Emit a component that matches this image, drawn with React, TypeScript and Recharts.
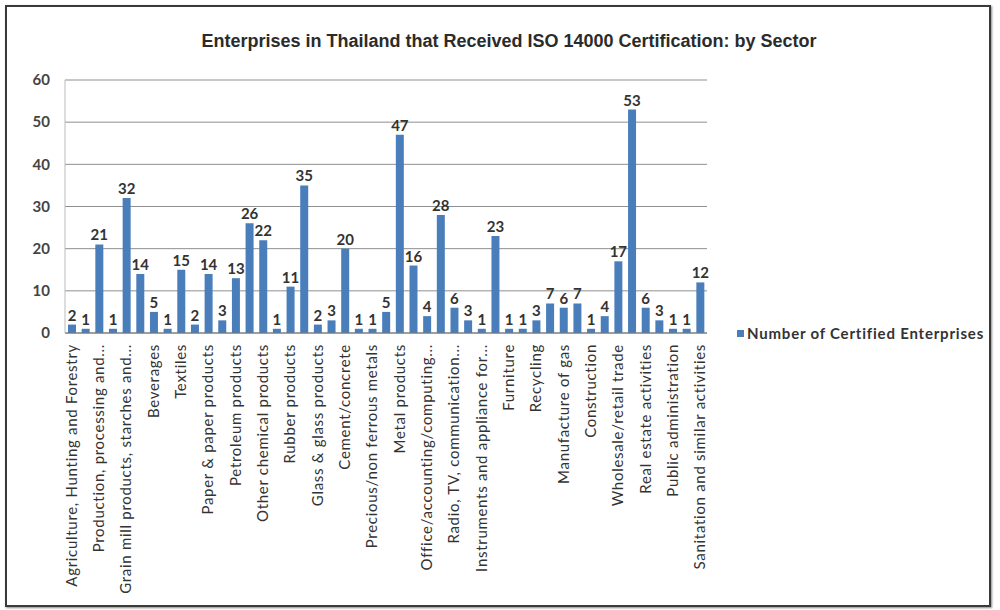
import React from 'react';
import { BarChart, Bar, XAxis, YAxis, CartesianGrid, LabelList } from 'recharts';

// ISO 14000 certified enterprises per sector
const sectors = [
  'Agriculture, Hunting and Forestry',
  'Fishing',
  'Production, processing and...',
  'Meat & fish processing',
  'Grain mill products, starches and...',
  'Other food products',
  'Beverages',
  'Tobacco products',
  'Textiles',
  'Wearing apparel',
  'Paper & paper products',
  'Wood & wood products',
  'Petroleum products',
  'Basic chemicals',
  'Other chemical products',
  'Man-made fibres',
  'Rubber products',
  'Plastic products',
  'Glass & glass products',
  'Ceramic products',
  'Cement/concrete',
  'Basic iron & steel',
  'Precious/non ferrous metals',
  'Casting of metals',
  'Metal products',
  'Machinery & equipment',
  'Office/accounting/computing...',
  'Electrical machinery',
  'Radio, TV, communication...',
  'Electronic components',
  'Instruments and appliance for...',
  'Motor vehicles',
  'Furniture',
  'Other transport equipment',
  'Recycling',
  'Electricity supply',
  'Manufacture of gas',
  'Water supply',
  'Construction',
  'Motor vehicle sales & repair',
  'Wholesale/retail trade',
  'Transport & storage',
  'Real estate activities',
  'Computer & related activities',
  'Public administration',
  'Education',
  'Sanitation and similar activities',
];

const certified = [
  2, 1, 21, 1, 32, 14, 5, 1, 15, 2, 14, 3, 13, 26, 22, 1, 11, 35, 2, 3, 20, 1, 1, 5,
  47, 16, 4, 28, 6, 3, 1, 23, 1, 1, 3, 7, 6, 7, 1, 4, 17, 53, 6, 3, 1, 1, 12,
];

const yTicks = [0, 10, 20, 30, 40, 50, 60];

const seriesName = 'Number of Certified Enterprises';
const BAR = '#4a7ebb';

const rows = sectors.map((name, i) => ({ name, value: certified[i] }));

const CategoryTick = (props: any) => {
  const { x, y, payload } = props;
  return (
    <text
      x={0}
      y={0}
      transform={`translate(${x + 5},${y + 3}) rotate(-90)`}
      textAnchor="end"
      fontFamily="Lato"
      fontSize={15}
      letterSpacing={0.7}
      fill="#333"
    >
      {payload.value}
    </text>
  );
};

export default function App() {
  return (
    <div
      style={{
        position: 'absolute',
        left: 5,
        top: 5,
        width: 986,
        height: 602,
        border: '2px solid #3a3a3a',
        boxShadow: '1px 1px 2px #888',
        boxSizing: 'border-box',
        background: '#fff',
      }}
    >
      <div
        style={{
          position: 'absolute',
          left: 0,
          width: 1004,
          top: 24,
          textAlign: 'center',
          fontFamily: 'Liberation Sans',
          fontSize: 18,
          fontWeight: 700,
          color: '#2b2b2b',
        }}
      >
        Enterprises in Thailand that Received ISO 14000 Certification: by Sector
      </div>
      <BarChart
        width={982}
        height={598}
        data={rows}
        margin={{ top: 73, right: 282, left: 0, bottom: 0 }}
        barCategoryGap="22%"
      >
        <CartesianGrid vertical={false} stroke="#8f8f8f" />
        <XAxis
          dataKey="name"
          interval={1}
          height={272}
          tickLine={false}
          axisLine={{ stroke: '#777' }}
          tick={<CategoryTick />}
        />
        <YAxis
          width={58}
          domain={[0, 60]}
          ticks={yTicks}
          tickLine={false}
          axisLine={{ stroke: '#bbb' }}
          tickMargin={9}
          tick={{ fontFamily: 'Lato', fontSize: 15, fontWeight: 700, fill: '#444' }}
        />
        <Bar dataKey="value" name={seriesName} fill={BAR} isAnimationActive={false}>
          <LabelList
            dataKey="value"
            position="top"
            offset={4}
            fontFamily="Lato"
            fontSize={15}
            fontWeight={700}
            fill="#333"
          />
        </Bar>
      </BarChart>
      <div
        style={{
          position: 'absolute',
          left: 730,
          top: 317,
          display: 'flex',
          alignItems: 'center',
          fontFamily: 'Lato',
          fontSize: 15,
          fontWeight: 700,
          letterSpacing: 0.8,
          color: '#333',
          whiteSpace: 'nowrap',
        }}
      >
        <span style={{ width: 7, height: 7, background: BAR, marginRight: 3, display: 'inline-block' }} />
        {seriesName}
      </div>
    </div>
  );
}
